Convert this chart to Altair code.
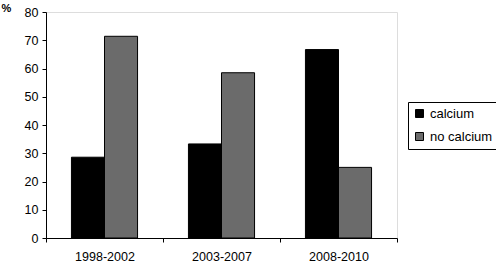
import altair as alt
import pandas as pd

periods = ["1998-2002", "2003-2007", "2008-2010"]
calcium = [28.6, 33.3, 66.7]
no_calcium = [71.4, 58.5, 25.0]
series = ["calcium", "no calcium"]
colors = ["#000000", "#6b6b6b"]

rows = []
for i, p in enumerate(periods):
    rows.append({"period": p, "group": series[0], "value": calcium[i]})
    rows.append({"period": p, "group": series[1], "value": no_calcium[i]})
df = pd.DataFrame(rows)

FONT = "Liberation Sans"

chart = alt.Chart(df).mark_bar(stroke="black", strokeWidth=1).encode(
    x=alt.X("period:N", sort=periods, title=None,
            scale=alt.Scale(paddingInner=0, paddingOuter=0),
            axis=alt.Axis(labelAngle=0, tickBand="extent", tickSize=4,
                          labelPadding=8, labelFontSize=12.5, labelFont=FONT,
                          labelColor="black", domainColor="black", tickColor="black")),
    xOffset=alt.XOffset("group:N", sort=series,
                        scale=alt.Scale(paddingInner=0, paddingOuter=0.77)),
    y=alt.Y("value:Q", title="%",
            scale=alt.Scale(domain=[0, 80], nice=False),
            axis=alt.Axis(values=list(range(0, 81, 10)), grid=False, tickSize=4,
                          labelFontSize=12.5, labelFont=FONT, labelColor="black",
                          domainColor="black", tickColor="black", labelPadding=4,
                          titleAngle=0, titleX=-45, titleY=-4, titleAlign="left",
                          titleBaseline="middle", titleFont=FONT, titleFontSize=11,
                          titleFontWeight="bold", titleColor="black")),
    color=alt.Color("group:N", sort=series,
                    scale=alt.Scale(domain=series, range=colors),
                    legend=alt.Legend(title=None, orient="none", legendX=362, legendY=90,
                                      symbolType="square", symbolSize=64,
                                      symbolStrokeColor="black", symbolStrokeWidth=1,
                                      labelFontSize=13, labelFont=FONT, labelColor="black",
                                      strokeColor="black", padding=5, rowPadding=9,
                                      labelOffset=4)),
).properties(
    width=351, height=226,
    autosize=alt.AutoSizeParams(type="none"),
    padding={"left": 46, "top": 12, "right": 99, "bottom": 25},
).configure_view(stroke=None).configure(background="white")

chart.save("out.html", embed_options={"renderer": "svg", "actions": False})
